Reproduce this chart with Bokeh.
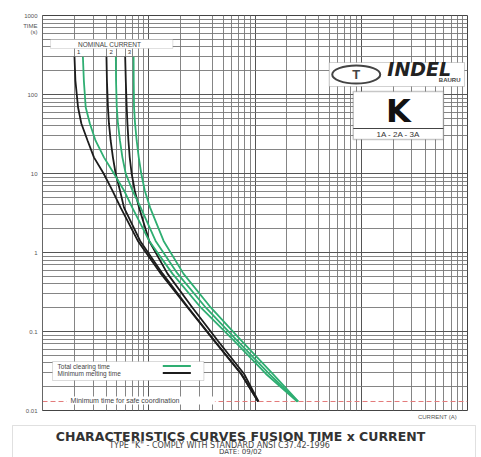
from bokeh.plotting import figure
from bokeh.models import Range1d, Label, BoxAnnotation, Span, FixedTicker, CustomJSTickFormatter
from bokeh.layouts import column
from bokeh.embed import file_html
from bokeh.resources import INLINE
from bokeh.core.properties import value

# ---------------- data ----------------
time_s = [300, 150, 69, 43, 26, 16, 10, 6.1, 3.7, 1.4, 0.54, 0.2, 0.077, 0.029, 0.013]
melt_1a = [2.0, 2.04, 2.16, 2.32, 2.66, 3.05, 3.76, 4.54, 5.44, 7.9, 13.0, 23.3, 41, 74, 107]
melt_2a = [4.0, 4.04, 4.13, 4.22, 4.38, 4.6, 4.88, 5.36, 5.85, 8.3, 13.5, 23.6, 41.5, 74.5, 107]
melt_3a = [6.0, 6.08, 6.2, 6.3, 6.44, 6.62, 6.9, 7.38, 8.1, 10.1, 15.0, 25.8, 44.5, 79, 108]
clear_1a = [2.4, 2.45, 2.55, 2.79, 3.16, 3.79, 4.7, 5.85, 7.0, 10.1, 16.7, 31, 63, 127, 250]
clear_2a = [4.9, 4.92, 5.0, 5.13, 5.36, 5.65, 6.07, 7.02, 8.4, 11.6, 18.7, 34.5, 67.6, 136, 253]
clear_3a = [7.2, 7.22, 7.27, 7.43, 7.7, 8.05, 8.5, 9.17, 10.3, 13.8, 21.2, 38.5, 74, 147, 256]
ratings = ["1", "2", "3"]
y_ticks = [0.01, 0.1, 1, 10, 100, 1000]
x_ticks = [1, 10, 100, 1000, 10000]
safe_time = 0.013

GREEN = "#2fae72"
BLACK = "#1c1c1c"
FONT = "Liberation Sans"


def fx(px):  # page pixel -> current value (layout helper)
    return 10 ** ((px - 42) / 106)


def fy(py):  # page pixel -> time value (layout helper)
    return 10 ** ((252 - py) / 79)


p = figure(width=481, height=424, x_axis_type="log", y_axis_type="log",
           x_range=Range1d(1, 10000), y_range=Range1d(0.01, 1000),
           output_backend="svg", toolbar_location=None,
           min_border_left=42, min_border_right=14, min_border_top=15, min_border_bottom=14)
p.frame_align = False
p.outline_line_color = "#444"
p.background_fill_color = "white"
p.border_fill_color = "white"

minor_x = [m * 10 ** e for e in range(0, 4) for m in range(2, 10)]
minor_y = [m * 10 ** e for e in range(-2, 3) for m in range(2, 10)]
p.xgrid.ticker = FixedTicker(ticks=x_ticks, minor_ticks=minor_x)
p.ygrid.ticker = FixedTicker(ticks=y_ticks, minor_ticks=minor_y)
p.grid.grid_line_color = "#555"
p.grid.grid_line_width = 1
p.grid.minor_grid_line_color = "#777"
p.grid.minor_grid_line_width = 0.9

# y axis: decade labels plus the "TIME (s)" heading as label lines
time_a, time_b = fy(25), fy(31)
p.yaxis.ticker = FixedTicker(ticks=y_ticks + [time_a, time_b], minor_ticks=[])
p.yaxis.formatter = CustomJSTickFormatter(
    args=dict(a=time_a, b=time_b),
    code="""
    if (Math.abs(tick - a) < 1e-6 * a) return "TIME";
    if (Math.abs(tick - b) < 1e-6 * b) return "(s)";
    return String(Number(tick.toPrecision(2)));
    """)
p.yaxis.major_label_text_font_size = "6px"
p.yaxis.major_label_text_color = "#555"
p.yaxis.major_label_text_font = FONT
p.yaxis.major_tick_out = 0
p.yaxis.major_tick_in = 0
p.yaxis.major_label_standoff = 5
p.yaxis.minor_tick_line_color = None
p.yaxis.axis_line_color = "#666"

# x axis: only the "CURRENT (A)" caption
cur_pos = fx(436)
p.xaxis.ticker = FixedTicker(ticks=[cur_pos], minor_ticks=[])
p.xaxis.formatter = CustomJSTickFormatter(code='return "CURRENT (A)";')
p.xaxis.major_label_text_font_size = "6px"
p.xaxis.major_label_text_color = "#555"
p.xaxis.major_label_text_font = FONT
p.xaxis.major_tick_out = 0
p.xaxis.major_tick_in = 0
p.xaxis.major_label_standoff = 3
p.xaxis.axis_line_color = None
p.xaxis.major_tick_line_color = None
p.xaxis.minor_tick_line_color = None

# red dashed line (under boxes)
p.add_layout(Span(location=safe_time, dimension="width", line_color="#e37a7a",
                  line_dash="5 3", line_width=1, level="underlay"))


def wbox(l, r, t, b, line="#888", lw=1):
    p.add_layout(BoxAnnotation(left=fx(l), right=fx(r), top=fy(t), bottom=fy(b),
                               fill_color="white", fill_alpha=1, line_color=line,
                               line_width=lw, level="underlay"))


wbox(66, 214, 396, 404, line=None)          # safe coordination note
wbox(52, 203, 361, 380)                     # legend
wbox(50, 172, 39, 48, line="#999")          # nominal current
wbox(328, 463, 62, 86, line="#666")         # logo
wbox(352, 442, 91, 139, line="#444", lw=1.5)  # K box

# curves
for arr in (melt_1a, melt_2a, melt_3a):
    p.line(arr, time_s, line_color=BLACK, line_width=1.8)
for arr in (clear_1a, clear_2a, clear_3a):
    p.line(arr, time_s, line_color=GREEN, line_width=1.8)

# legend samples
p.line([fx(162), fx(190)], [fy(365.5), fy(365.5)], line_color=GREEN, line_width=1.8)
p.line([fx(162), fx(190)], [fy(372.5), fy(372.5)], line_color=BLACK, line_width=1.8)

# K box separator and logo ellipse
p.line([fx(352), fx(442)], [fy(128), fy(128)], line_color="#444", line_width=1)
p.ellipse(x=[fx(355)], y=[fy(74)], width=48, height=18, width_units="screen",
          height_units="screen", fill_color=None, line_color="#444", line_width=2)


def lab(x, y, text, size, align="left", style="normal", color="#444", font=FONT):
    p.add_layout(Label(x=x, y=y, text=text, text_font_size=size, text_align=align,
                       text_baseline="middle", text_font_style=style, text_color=color,
                       text_font=font))


lab(fx(70), fy(400), "Minimum time for safe coordination", "7px")
lab(fx(57), fy(365.5), "Total clearing time", "6.5px")
lab(fx(57), fy(372.5), "Minimum melting time", "6.5px")
lab(fx(109), fy(43.5), "NOMINAL CURRENT", "6.5px", align="center")
for r, m, c in zip(ratings, (melt_1a, melt_2a, melt_3a), (clear_1a, clear_2a, clear_3a)):
    lab((m[0] * c[0]) ** 0.5, time_s[0] * 1.15, r, "6px", align="center", color="#333")

lab(fx(355), fy(74), "T", "13px", align="center", style="bold", color="#444")
lab(fx(386), fy(68.5), "INDEL", "19px", style="bold italic", color="#222",
    font="DejaVu Sans")
lab(fx(459), fy(79.5), "BAURU", "6px", align="right", style="bold", color="#444")
lab(fx(397), fy(110), "K", "32px", align="center", style="bold", color="#111",
    font="DejaVu Sans")
lab(fx(397), fy(134), "1A - 2A - 3A", "8px", align="center", color="#333")

# ---------------- title block ----------------
t = figure(width=481, height=33, x_range=Range1d(0, 481), y_range=Range1d(33, 0),
           output_backend="svg", toolbar_location=None, min_border=0)
t.frame_align = False
t.axis.visible = False
t.grid.visible = False
t.outline_line_color = None
t.add_layout(BoxAnnotation(left=12, right=475, top=1, bottom=45, fill_color=None,
                           line_color="#999", line_width=1))
t.text(x=[240], y=[11.5], text=["CHARACTERISTICS CURVES FUSION TIME x CURRENT"],
       text_font=value("DejaVu Sans"), text_font_style="bold", text_font_size="12.5px",
       text_align="center", text_baseline="middle", text_color="#333")
t.text(x=[219], y=[20.5], text=['TYPE "K" - COMPLY WITH STANDARD ANSI C37.42-1996'],
       text_font=value("DejaVu Sans"), text_font_size="8px",
       text_align="center", text_baseline="middle", text_color="#444")
t.text(x=[240], y=[27.5], text=["DATE: 09/02"],
       text_font=value("DejaVu Sans"), text_font_size="7px",
       text_align="center", text_baseline="middle", text_color="#444")

layout = column(p, t, spacing=0)
open("out.html", "w").write(file_html(layout, INLINE))
